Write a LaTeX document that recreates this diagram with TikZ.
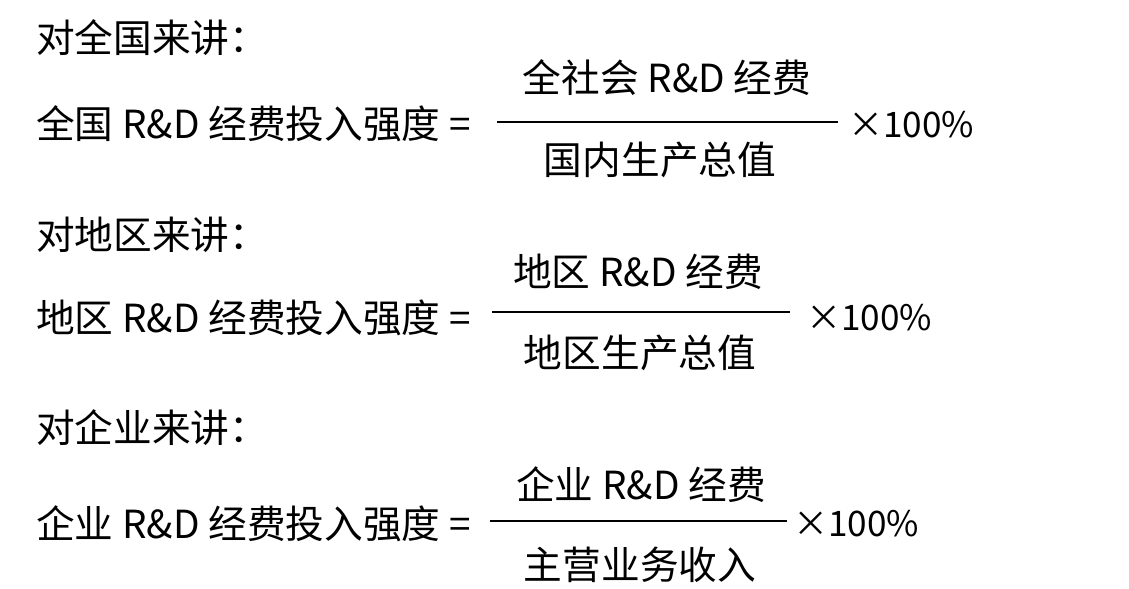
\documentclass[tikz,border=0pt]{standalone}
\usepackage{fontspec}
\setmainfont{Noto Sans CJK SC}
\usetikzlibrary{positioning}
\tikzset{
  txt/.style={inner sep=0pt, font=\fontsize{27.5}{30}\selectfont},
  lft/.style={txt, anchor=west},
  pct/.style={lft, font=\fontsize{25}{28}\selectfont},
  bar/.style={line width=1.2pt}
}
\begin{document}
\begin{tikzpicture}[x=0.025cm, y=-0.025cm]
    \useasboundingbox (0,0) rectangle (1129,589);

    % National
    \node[lft] (h1) at (36,38) {对全国来讲：};
    \node[lft] (l1) at (36,124) {全国 R\&D 经费投入强度 =};
    \coordinate (a1) at (497,122);
    \coordinate (b1) at (838,122);
    \draw[bar] (a1) -- (b1);
    \node[txt] (n1) at (667,78) {全社会 R\&D 经费};
    \node[txt] (d1) at (660,160) {国内生产总值};
    \node[pct] (p1) at (848,125) {×100\%};

    % Regional
    \node[lft] (h2) at (36,235) {对地区来讲：};
    \node[lft] (l2) at (36,318) {地区 R\&D 经费投入强度 =};
    \coordinate (a2) at (492,312);
    \coordinate (b2) at (790,312);
    \draw[bar] (a2) -- (b2);
    \node[txt] (n2) at (638,272) {地区 R\&D 经费};
    \node[txt] (d2) at (640,353) {地区生产总值};
    \node[pct] (p2) at (806,318) {×100\%};

    % Enterprise
    \node[lft] (h3) at (36,428) {对企业来讲：};
    \node[lft] (l3) at (36,524) {企业 R\&D 经费投入强度 =};
    \coordinate (a3) at (490,521);
    \coordinate (b3) at (787,521);
    \draw[bar] (a3) -- (b3);
    \node[txt] (n3) at (641,485) {企业 R\&D 经费};
    \node[txt] (d3) at (640,565) {主营业务收入};
    \node[pct] (p3) at (793,524) {×100\%};
\end{tikzpicture}
\end{document}
